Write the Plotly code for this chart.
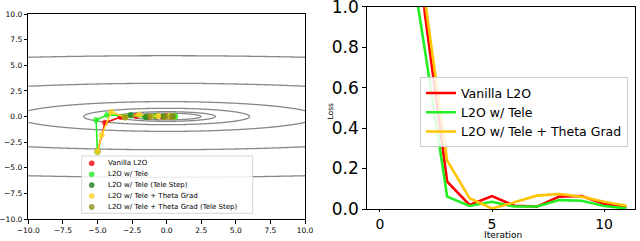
import numpy as np
import plotly.graph_objects as go

# ---------------- data ----------------
# objective f(x, y) = a*x^2 + b*y^2 and contour levels
coef_x = 1.0
coef_y = 56.0
contour_levels = [6.1, 12.4, 36.0, 118.0, 588.0, 1970.0]

vanilla_x = [-5.0, -4.45, -3.3, -2.2, -1.4, -0.8, -0.3, 0.0, 0.2, 0.35, 0.45, 0.5]
vanilla_y = [-3.45, -0.6, -0.05, 0.05, -0.05, 0.03, -0.02, 0.02, 0.0, 0.01, 0.0, 0.0]
tele_x = [-5.0, -5.1, -4.3, -2.6, -1.5, -0.8, -0.2, 0.2, 0.45, 0.55, 0.6, 0.62]
tele_y = [-3.45, -0.35, 0.15, 0.12, -0.05, 0.05, 0.0, 0.02, 0.0, 0.01, 0.0, 0.0]
tele_step_x = [-2.6, -1.5, -0.2, 0.45]
tele_step_y = [0.12, -0.05, 0.0, 0.0]
theta_x = [-5.0, -4.7, -4.0, -3.0, -2.0, -1.2, -0.6, -0.1, 0.2, 0.35, 0.45, 0.5]
theta_y = [-3.45, -1.8, 0.47, -0.1, 0.2, 0.0, 0.05, -0.03, 0.02, 0.0, 0.01, 0.0]
theta_step_x = [-3.0, -1.2, -0.1, 0.35]
theta_step_y = [-0.1, 0.0, -0.03, 0.0]

iterations = list(range(12))
loss_vanilla = [6.0, 2.5, 0.97, 0.135, 0.02, 0.064, 0.016, 0.012, 0.061, 0.064, 0.025, 0.008]
loss_tele = [6.0, 1.5, 0.79, 0.061, 0.015, 0.036, 0.012, 0.012, 0.044, 0.041, 0.015, 0.003]
loss_theta = [6.0, 3.0, 1.04, 0.239, 0.053, 0.003, 0.033, 0.066, 0.074, 0.061, 0.036, 0.016]

traj_labels = ["Vanilla L2O", "L2O w/ Tele", "L2O w/ Tele (Tele Step)",
               "L2O w/ Tele + Theta Grad", "L2O w/ Tele + Theta Grad (Tele Step)"]
loss_labels = ["Vanilla L2O", "L2O w/ Tele", "L2O w/ Tele + Theta Grad"]
xy_ticks = [-10.0, -7.5, -5.0, -2.5, 0.0, 2.5, 5.0, 7.5, 10.0]
loss_yticks = [0.0, 0.2, 0.4, 0.6, 0.8, 1.0]
loss_xticks = [0, 5, 10]

# ---------------- style ----------------
W, H = 640, 241
RED = "#ff0000"
LIME = "#22ee22"
DKGREEN = "#1f7a1f"
GOLD = "#ffd21a"
OLIVE = "#8c8c14"
LGOLD = "#ffc400"
FONT = "DejaVu Sans"

def px(x):
    return x / W

def py(y):
    return 1 - y / H

fig = go.Figure()

# contours
gx = np.linspace(-10, 10, 401)
gy = np.linspace(-10, 10, 801)
GX, GY = np.meshgrid(gx, gy)
Z = coef_x * GX ** 2 + coef_y * GY ** 2
for lv in contour_levels:
    fig.add_trace(go.Contour(
        x=gx, y=gy, z=Z, xaxis="x", yaxis="y",
        contours=dict(start=lv, end=lv, size=1, coloring="none"),
        line=dict(color="#888888", width=1.3),
        showscale=False, hoverinfo="skip", showlegend=False,
    ))

def traj(x, y, color, mode="lines+markers"):
    fig.add_trace(go.Scatter(
        x=x, y=y, mode=mode, xaxis="x", yaxis="y",
        line=dict(color=color, width=1.6),
        marker=dict(color=color, size=6, opacity=0.75),
        showlegend=False,
    ))

traj(vanilla_x, vanilla_y, RED)
traj(tele_x, tele_y, LIME)
traj(theta_x, theta_y, GOLD)
traj(tele_step_x, tele_step_y, DKGREEN, "markers")
traj(theta_step_x, theta_step_y, OLIVE, "markers")

# loss curves
for vals, col, name in zip([loss_vanilla, loss_tele, loss_theta], [RED, LIME, LGOLD], loss_labels):
    fig.add_trace(go.Scatter(
        x=iterations, y=vals, mode="lines", name=name,
        xaxis="x2", yaxis="y2", line=dict(color=col, width=2.6),
        showlegend=True,
    ))

tick_txt = [("\u2212" if v < 0 else "") + f"{abs(v):.1f}" for v in xy_ticks]
axis_common = dict(showline=True, linecolor="black", linewidth=1, mirror=True,
                   ticks="outside", tickcolor="black", automargin=False,
                   ticklabeloverflow="allow", showgrid=False, zeroline=False)

shapes = []
annotations = []
# custom legend for trajectory plot
shapes.append(dict(type="rect", xref="paper", yref="paper",
                   x0=px(81.7), x1=px(252.7), y0=py(213.3), y1=py(156),
                   fillcolor="rgba(255,255,255,0.85)", line=dict(color="#cccccc", width=0.8)))
row_y = [163.3, 174.2, 185.1, 196.0, 206.9]
for lab, col, ry in zip(traj_labels, [RED, LIME, DKGREEN, GOLD, OLIVE], row_y):
    shapes.append(dict(type="circle", xref="paper", yref="paper",
                       xsizemode="pixel", ysizemode="pixel",
                       xanchor=px(91.7), yanchor=py(ry), x0=-2.8, x1=2.8, y0=-2.8, y1=2.8,
                       fillcolor=col, opacity=0.8, line=dict(width=0)))
    annotations.append(dict(text=lab, xref="paper", yref="paper", x=px(105.5), y=py(ry),
                            xanchor="left", yanchor="middle", showarrow=False,
                            font=dict(size=7, color="black", family=FONT)))

annotations.append(dict(text="Loss", xref="paper", yref="paper", x=px(330.5), y=py(111),
                        textangle=-90, showarrow=False, xanchor="center", yanchor="middle",
                        font=dict(size=7.5, color="black", family=FONT)))
annotations.append(dict(text="Iteration", xref="paper", yref="paper", x=px(503), y=py(242),
                        showarrow=False, xanchor="center", yanchor="bottom",
                        font=dict(size=9, color="black", family=FONT)))

fig.update_layout(
    template="none",
    width=W, height=H, margin=dict(l=0, r=0, t=0, b=0, pad=0, autoexpand=False),
    paper_bgcolor="white", plot_bgcolor="white",
    font=dict(family=FONT, color="black"),
    xaxis=dict(domain=[px(28.3), px(305)], range=[-10, 10], tickvals=xy_ticks, ticktext=tick_txt,
               tickfont=dict(size=7.5), ticklen=3.5, anchor="y", **axis_common),
    yaxis=dict(domain=[py(219), py(14)], range=[-10, 10], tickvals=xy_ticks, ticktext=tick_txt,
               tickfont=dict(size=7.5), ticklen=3.5, anchor="x", **axis_common),
    xaxis2=dict(domain=[px(366.7), px(635)], range=[-0.59, 11.38], tickvals=loss_xticks,
                ticktext=[str(v) for v in loss_xticks], tickfont=dict(size=14), ticklen=2,
                anchor="y2", **axis_common),
    yaxis2=dict(domain=[py(209), py(6.7)], range=[0, 1], tickvals=loss_yticks,
                ticktext=[f"{v:.1f}" for v in loss_yticks], tickfont=dict(size=17), ticklen=3.5,
                anchor="x2", **axis_common),
    legend=dict(x=px(420), y=py(77.3), xanchor="left", yanchor="top",
                bgcolor="rgba(255,255,255,0.85)", bordercolor="#cccccc", borderwidth=1,
                font=dict(size=12.5, family=FONT, color="black"), tracegroupgap=0),
    shapes=shapes, annotations=annotations,
)

fig.write_html(
    "out.html",
    config={"displayModeBar": False},
    post_script="document.body.style.margin='0';document.body.style.overflow='hidden';",
)
